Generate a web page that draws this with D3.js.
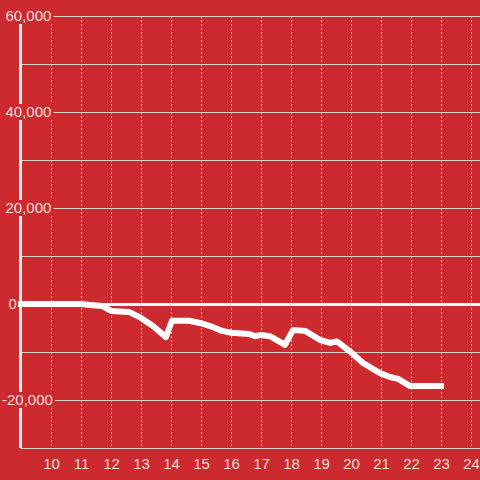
<!DOCTYPE html>
<html><head><meta charset="utf-8">
<script src="https://cdn.jsdelivr.net/npm/d3@7"></script>
<style>html,body{margin:0;padding:0;background:#cc2a2f;}svg{display:block;}</style>
</head><body>
<script>
// Data
const hours = [9, 10, 11, 11.3, 11.7, 12.0, 12.6, 13.0, 13.4, 13.83, 14.03, 14.6, 15.0, 15.3, 15.7, 16.0, 16.6, 16.8, 17.0, 17.3, 17.8, 18.07, 18.47, 18.97, 19.3, 19.53, 19.97, 20.4, 20.97, 21.3, 21.57, 21.97, 23.0];
const values = [0, 0, 0, -200, -400, -1450, -1650, -2900, -4600, -6900, -3500, -3500, -4000, -4600, -5600, -6000, -6250, -6700, -6450, -6700, -8500, -5400, -5600, -7500, -8100, -7800, -9900, -12300, -14400, -15200, -15600, -17100, -17100];
const xTicks = [10, 11, 12, 13, 14, 15, 16, 17, 18, 19, 20, 21, 22, 23, 24];
const yLabelTicks = [-20000, 0, 20000, 40000, 60000];
const yGridTicks = [-20000, -10000, 0, 10000, 20000, 30000, 40000, 50000, 60000];

const W = 480, H = 480;
const bg = "#cc2a2f", grid = "#d4d0d0", txt = "#f6dede";
const svg = d3.select("body").append("svg").attr("width", W).attr("height", H);
svg.append("rect").attr("width", W).attr("height", H).attr("fill", bg);

const x = d3.scaleLinear().domain([9, 24.3]).range([21, 480]);
const y = d3.scaleLinear().domain([-30000, 60000]).range([448, 16]);
const x0 = 20.5;

// horizontal gridlines
svg.append("g").selectAll("line").data(yGridTicks).join("line")
  .attr("x1", x0).attr("x2", W).attr("y1", d => y(d) + 0.5).attr("y2", d => y(d) + 0.5)
  .attr("stroke", grid).attr("stroke-width", 1);

// vertical dotted gridlines
svg.append("g").selectAll("line").data(xTicks).join("line")
  .attr("x1", d => Math.round(x(d)) + 0.5).attr("x2", d => Math.round(x(d)) + 0.5)
  .attr("y1", y(60000)).attr("y2", y(-30000))
  .attr("stroke", grid).attr("stroke-width", 1).attr("stroke-dasharray", "2,2");

// bottom axis
const xAxis = svg.append("g").attr("transform", `translate(0,${y(-30000)})`)
  .call(d3.axisBottom(x).tickValues(xTicks).tickSize(0).tickPadding(10).tickFormat(d3.format("d")));
xAxis.select(".domain").remove();
xAxis.append("line").attr("x1", x0).attr("x2", W).attr("y1", 0.5).attr("y2", 0.5).attr("stroke", grid);
xAxis.selectAll("text").attr("fill", txt).attr("font-size", 15).attr("font-family", "Liberation Sans, Arial, sans-serif").attr("dy", "0.71em");

// zero line
svg.append("line").attr("x1", 17).attr("x2", W).attr("y1", y(0) + 0.5).attr("y2", y(0) + 0.5)
  .attr("stroke", "#fff").attr("stroke-width", 3);

// left axis line
svg.append("line").attr("x1", x0).attr("x2", x0).attr("y1", y(60000)).attr("y2", y(-30000))
  .attr("stroke", "#f4eeee").attr("stroke-width", 3);

// y labels with background
const fmt = d3.format(",");
const yl = svg.append("g").selectAll("g").data(yLabelTicks).join("g")
  .attr("transform", d => `translate(${d < 0 ? 2 : (d === 0 ? 8.5 : 5.5)},${y(d)})`);
const yt = yl.append("text").text(d => fmt(d).replace("−", "-"))
  .attr("fill", txt).attr("font-size", 15).attr("font-family", "Liberation Sans, Arial, sans-serif")
  .attr("dy", "0.36em");
yl.each(function() {
  const g = d3.select(this);
  const bb = g.select("text").node().getBBox();
  g.insert("rect", "text").attr("x", bb.x - 1).attr("y", -8).attr("width", bb.width + 3).attr("height", 16).attr("fill", bg);
});

// data line
const line = d3.line().x((d, i) => x(hours[i])).y(d => y(d));
svg.append("path").datum(values).attr("d", line)
  .attr("fill", "none").attr("stroke", "#fff").attr("stroke-width", 6)
  .attr("stroke-linejoin", "round").attr("stroke-linecap", "square");
</script>
</body></html>
